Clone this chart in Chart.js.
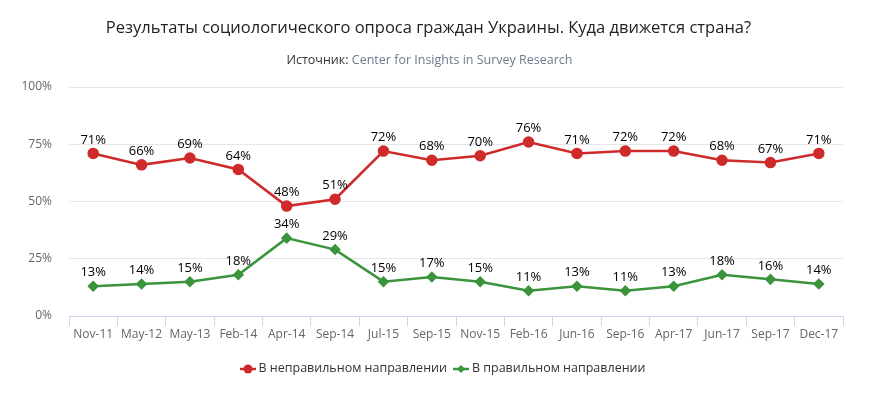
<!DOCTYPE html>
<html>
<head>
<meta charset="utf-8">
<script src="https://cdn.jsdelivr.net/npm/chart.js@4.4.1/dist/chart.umd.min.js"></script>
<style>
    body { margin: 0; background: #fff; font-family: "Open Sans", sans-serif; }
    #wrap { position: relative; width: 881px; height: 399px; overflow: hidden; }
    #chart { position: absolute; left: 0; top: 0; }
    #title { position: absolute; top: 15px; left: -12px; width: 881px; text-align: center;
        font-size: 16.5px; color: #222; }
    #subtitle { position: absolute; top: 51px; left: -11px; width: 881px; text-align: center;
        font-size: 12.5px; color: #333; }
    #subtitle span { color: #6a7b8c; }
    #legend { position: absolute; top: 359px; left: 2px; width: 881px; text-align: center;
        font-size: 12.5px; color: #333; }
    .item { display: inline-block; margin: 0 3px; }
    .sym { display: inline-block; vertical-align: middle; margin-right: 3px; }
</style>
</head>
<body>
<div id="wrap">
    <canvas id="chart" width="881" height="399"></canvas>
    <div id="title">Результаты социологического опроса граждан Украины. Куда движется страна?</div>
    <div id="subtitle">Источник: <span>Center for Insights in Survey Research</span></div>
    <div id="legend"></div>
</div>
<script>
// Chart data
const categories = ["Nov-11", "May-12", "May-13", "Feb-14", "Apr-14", "Sep-14", "Jul-15", "Sep-15",
    "Nov-15", "Feb-16", "Jun-16", "Sep-16", "Apr-17", "Jun-17", "Sep-17", "Dec-17"];
const wrongDirection = [71, 66, 69, 64, 48, 51, 72, 68, 70, 76, 71, 72, 72, 68, 67, 71];
const rightDirection = [13, 14, 15, 18, 34, 29, 15, 17, 15, 11, 13, 11, 13, 18, 16, 14];
const seriesNames = ["В неправильном направлении", "В правильном направлении"];
const yTicks = [0, 25, 50, 75, 100];

const RED = "#cf2a2a";
const GREEN = "#3b943b";

// Draw value labels above each point
const dataLabels = {
    id: "dataLabels",
    afterDatasetsDraw(chart) {
        const ctx = chart.ctx;
        ctx.save();
        ctx.font = "13px 'Open Sans', sans-serif";
        ctx.fillStyle = "#000";
        ctx.textAlign = "center";
        ctx.textBaseline = "bottom";
        chart.data.datasets.forEach((ds, i) => {
            chart.getDatasetMeta(i).data.forEach((pt, j) => {
                ctx.fillText(ds.data[j] + "%", pt.x, pt.y - 7);
            });
        });
        ctx.restore();
    },
};

new Chart(document.getElementById("chart"), {
    type: "line",
    data: {
        labels: categories,
        datasets: [
            {
                label: seriesNames[0],
                data: wrongDirection,
                borderColor: RED,
                backgroundColor: RED,
                borderWidth: 2.5,
                pointStyle: "circle",
                pointRadius: 4.5,
                pointHoverRadius: 4.5,
                tension: 0,
            },
            {
                label: seriesNames[1],
                data: rightDirection,
                borderColor: GREEN,
                backgroundColor: GREEN,
                borderWidth: 2.5,
                pointStyle: "rectRot",
                pointRadius: 4,
                pointHoverRadius: 4,
                tension: 0,
            },
        ],
    },
    options: {
        responsive: false,
        animation: false,
        layout: { padding: { top: 87, bottom: 53, left: 0, right: 38 } },
        plugins: {
            legend: { display: false },
            title: { display: false },
            tooltip: { enabled: false },
        },
        scales: {
            x: {
                offset: true,
                grid: {
                    offset: true,
                    drawOnChartArea: false,
                    drawTicks: true,
                    tickLength: 10,
                    color: "#ccd6eb",
                },
                border: { display: true, color: "#ccd6eb", width: 1 },
                ticks: {
                    color: "#666",
                    font: { family: "'Open Sans', sans-serif", size: 12 },
                    padding: 1,
                    maxRotation: 0,
                    autoSkip: false,
                },
                afterFit(scale) { scale.height = 30; },
            },
            y: {
                min: 0,
                max: 100,
                afterBuildTicks(scale) { scale.ticks = yTicks.map((v) => ({ value: v })); },
                grid: { color: "#e6e6e6", drawTicks: false, lineWidth: 1 },
                border: { display: false },
                ticks: {
                    color: "#666",
                    font: { family: "'Open Sans', sans-serif", size: 12 },
                    padding: 17,
                    callback: (v) => v + "%",
                },
                afterFit(scale) { scale.width = 69; },
            },
        },
    },
    plugins: [dataLabels],
});

// Legend as real text
const legend = document.getElementById("legend");
[[seriesNames[0], RED, "circle"], [seriesNames[1], GREEN, "diamond"]].forEach(([name, color, shape]) => {
    const item = document.createElement("span");
    item.className = "item";
    const sym = document.createElement("canvas");
    sym.className = "sym";
    sym.width = 16;
    sym.height = 12;
    const c = sym.getContext("2d");
    c.strokeStyle = color;
    c.fillStyle = color;
    c.lineWidth = 2.5;
    c.beginPath();
    c.moveTo(0, 6);
    c.lineTo(16, 6);
    c.stroke();
    c.beginPath();
    if (shape === "circle") {
        c.arc(8, 6, 4.5, 0, Math.PI * 2);
    } else {
        c.moveTo(8, 2); c.lineTo(12, 6); c.lineTo(8, 10); c.lineTo(4, 6); c.closePath();
    }
    c.fill();
    item.appendChild(sym);
    item.appendChild(document.createTextNode(name));
    legend.appendChild(item);
});
</script>
</body>
</html>
